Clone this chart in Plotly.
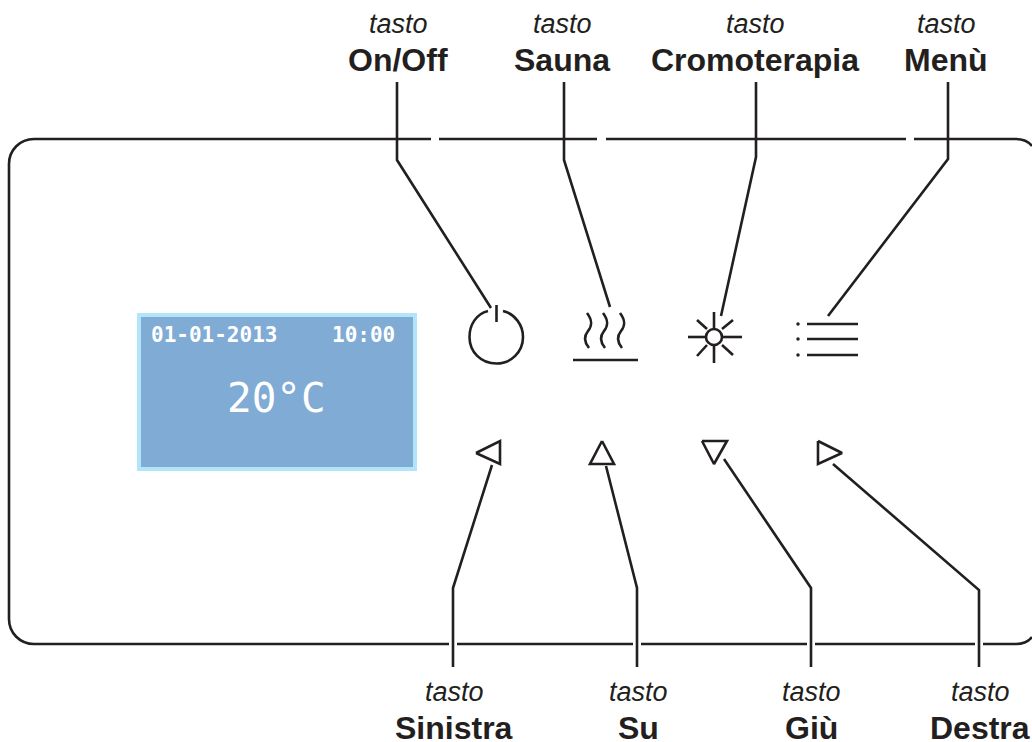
"""Control panel diagram with labelled keys, drawn on a pixel-sized plane."""
import plotly.graph_objects as go

INK = "#231f20"
LCD_FILL = "#7fabd5"
LCD_EDGE = "#b3e5fa"
STROKE = 2.6

# --- labels ---
TOP_KEYS = ["On/Off", "Sauna", "Cromoterapia", "Menù"]
TOP_KEY_X = [398, 562, 755, 946]
BOTTOM_KEYS = ["Sinistra", "Su", "Giù", "Destra"]
BOTTOM_KEY_X = [454, 638, 811, 980]
WORD = "tasto"
LCD_DATE = "01-01-2013"
LCD_TIME = "10:00"
LCD_TEMP = "20°C"

# --- leaders ---
LEADERS = [
    ([397, 397, 491], [82, 160, 308]),
    ([564, 564, 610], [82, 160, 307]),
    ([756, 756, 721], [82, 157, 316]),
    ([948, 948, 828], [82, 159, 316]),
    ([453, 453, 492], [667, 588, 465]),
    ([637, 637, 606], [667, 588, 466]),
    ([811, 811, 724], [667, 588, 459]),
    ([979, 979, 833], [667, 590, 464]),
]

# --- panel outline, split by the gaps where leaders pass ---
TOP_EDGE = [(34, 431), (439, 597), (606, 906), (914, 1016)]
BOTTOM_EDGE = [(34, 449), (457, 633), (641, 807), (815, 975), (983, 1016)]
PANEL_TOP = 139
PANEL_BOTTOM = 644
PANEL_LEFT = 9

# --- icons ---
MENU_ROWS = [324, 339, 355]
TRIANGLES = [
    ([476, 500, 500], [453, 441, 464]),
    ([602, 590, 614], [441, 464, 464]),
    ([702, 727, 714], [441, 441, 464]),
    ([818, 818, 842], [441, 464, 453]),
]
SUN_RAYS = [
    ([688, 706], [337, 337]), ([723, 742], [337, 337]),
    ([714, 714], [312, 329]), ([714, 714], [345, 363]),
    ([697, 707], [320, 329]), ([733, 722], [320, 329]),
    ([697, 707], [356, 345]), ([733, 722], [355, 345]),
]
HEAT_X = [588, 604, 621]


def ink_line(fig, xs, ys, width=STROKE):
    fig.add_trace(go.Scatter(x=xs, y=ys, mode="lines", hoverinfo="skip",
                             line=dict(color=INK, width=width)))


fig = go.Figure()

for xs, ys in LEADERS:
    ink_line(fig, xs, ys)

for x0, x1 in TOP_EDGE:
    ink_line(fig, [x0, x1], [PANEL_TOP, PANEL_TOP])
for x0, x1 in BOTTOM_EDGE:
    ink_line(fig, [x0, x1], [PANEL_BOTTOM, PANEL_BOTTOM])
ink_line(fig, [PANEL_LEFT, PANEL_LEFT], [164, 619])

shapes = [
    # rounded corners of the panel
    dict(path="M 9 164 C 9 150 20 139 34 139"),
    dict(path="M 9 619 C 9 633 20 644 34 644"),
    dict(path="M 1016 139 C 1022 139 1028 141 1032 146"),
    dict(path="M 1016 644 C 1022 644 1028 642 1032 637"),
    # power icon
    dict(path="M 488 311 C 476 314 469.5 325 469.5 337 C 469.5 352 481 363.5 496.5 363.5 "
              "C 511 363.5 523 352 523 337 C 523 325 515 314 503 311"),
]
# heat waves
for x in HEAT_X:
    shapes.append(dict(path=f"M {x - 1} 313 C {x + 5} 321 {x + 4} 326 {x} 331 "
                            f"C {x - 4} 336 {x - 4} 342 {x + 1} 348"))
# sun core
shapes.append(dict(type="circle", x0=706, x1=722, y0=329, y1=345))
for s in shapes:
    s.update(xref="x", yref="y", line=dict(color=INK, width=STROKE))
    if "path" in s:
        s.setdefault("type", "path")

# LCD
shapes.insert(0, dict(type="rect", xref="x", yref="y", x0=139, x1=415, y0=315, y1=469,
                      fillcolor=LCD_FILL, line=dict(color=LCD_EDGE, width=4)))

ink_line(fig, [496.5, 496.5], [305, 322])
ink_line(fig, [573, 638], [360, 360])
for y in MENU_ROWS:
    ink_line(fig, [807, 858], [y, y])
    fig.add_trace(go.Scatter(x=[798], y=[y], mode="markers", hoverinfo="skip",
                             marker=dict(color=INK, size=3.5)))
for xs, ys in SUN_RAYS:
    ink_line(fig, xs, ys)
for xs, ys in TRIANGLES:
    ink_line(fig, xs + xs[:1], ys + ys[:1])

annotations = []


def label(x, y, text, size, color=INK, family="Liberation Sans", **kw):
    annotations.append(dict(x=x, y=y, xref="x", yref="y", text=text, showarrow=False,
                            xanchor=kw.pop("xanchor", "center"), yanchor="middle",
                            font=dict(family=family, size=size, color=color), **kw))


for name, x in zip(TOP_KEYS, TOP_KEY_X):
    label(x, 24, f"<i>{WORD}</i>", 27)
    label(x, 60, f"<b>{name}</b>", 32)
for name, x in zip(BOTTOM_KEYS, BOTTOM_KEY_X):
    label(x, 692, f"<i>{WORD}</i>", 27)
    label(x, 728, f"<b>{name}</b>", 32)

label(149, 335, f"<b>{LCD_DATE}</b>", 21, "white", "DejaVu Sans Mono", xanchor="left")
label(330, 335, f"<b>{LCD_TIME}</b>", 21, "white", "DejaVu Sans Mono", xanchor="left")
label(276, 398, LCD_TEMP, 41, "white", "DejaVu Sans Mono")

fig.update_layout(
    width=1032, height=742,
    margin=dict(l=0, r=0, t=0, b=0),
    paper_bgcolor="white", plot_bgcolor="white",
    showlegend=False,
    xaxis=dict(range=[0, 1032], visible=False, fixedrange=True),
    yaxis=dict(range=[742, 0], visible=False, fixedrange=True),
    shapes=shapes, annotations=annotations,
)

fig.write_html("out.html", config=dict(displayModeBar=False),
               post_script="document.body.style.margin='0';")
